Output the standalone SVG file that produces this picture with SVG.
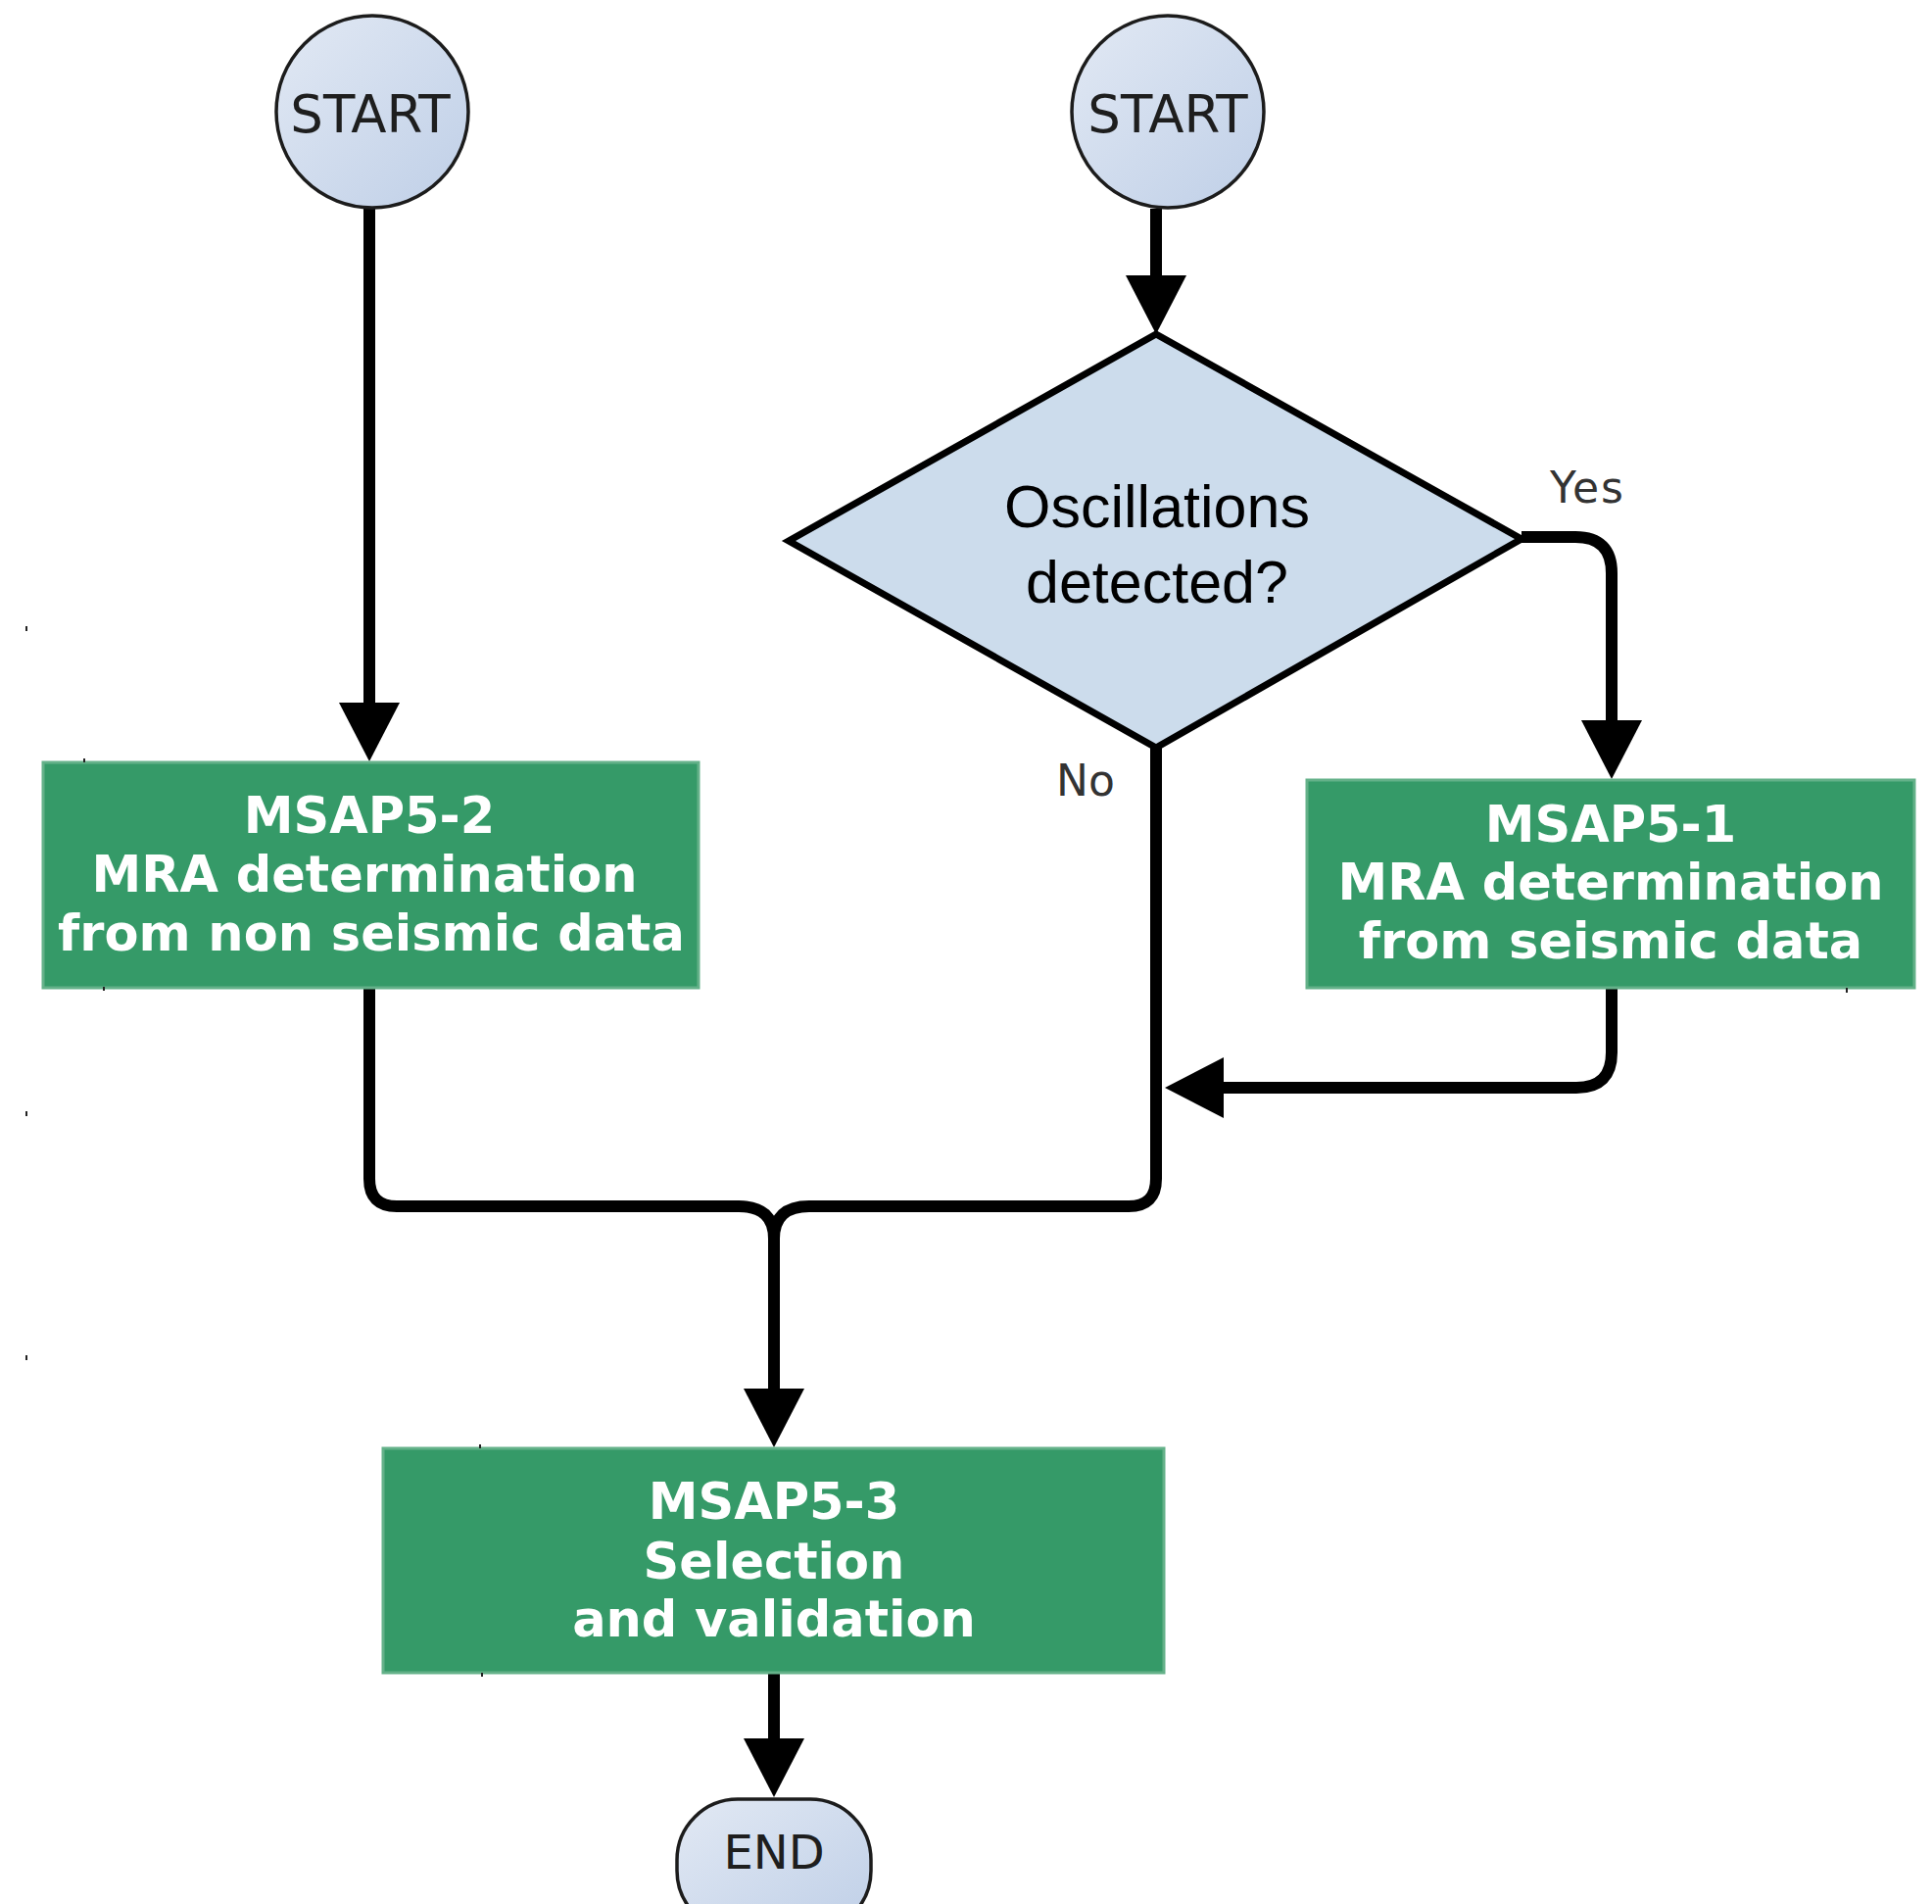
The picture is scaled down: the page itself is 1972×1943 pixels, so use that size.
<svg xmlns="http://www.w3.org/2000/svg" width="1972" height="1943" viewBox="0 0 1972 1943">
  <defs>
    <linearGradient id="termFill" x1="0" y1="0" x2="1" y2="1">
      <stop offset="0" stop-color="#e2e9f4"/>
      <stop offset="1" stop-color="#bfcfe7"/>
    </linearGradient>
    <marker id="arrow" markerUnits="userSpaceOnUse" markerWidth="62" markerHeight="64" viewBox="0 0 60 64" refX="46" refY="32" orient="auto">
      <path d="M0,1 L60,32 L0,63 Z" fill="#000"/>
    </marker>
    <style>
      .term { fill: url(#termFill); stroke: #1c1c1c; stroke-width: 3.5; }
      .term-text { font-family: "DejaVu Sans", sans-serif; font-size: 53px; fill: #1e1e1e; text-anchor: middle; }
      .decision { fill: #ccdcec; stroke: #000; stroke-width: 7; stroke-linejoin: miter; }
      .decision-text { font-family: "Liberation Sans", Arial, sans-serif; font-size: 61px; fill: #000; text-anchor: middle; }
      .process { fill: #359a68; stroke: #64b189; stroke-width: 3; }
      .process-text { font-family: "DejaVu Sans", sans-serif; font-weight: bold; font-size: 51px; fill: #fff; text-anchor: middle; }
      .edge { fill: none; stroke: #000; stroke-width: 12; stroke-linejoin: round; }
      .edge-label { font-family: "DejaVu Sans", sans-serif; font-size: 44px; fill: #333; }
      .tick { fill: #222; }
    </style>
  </defs>

  <rect width="1972" height="1943" fill="#fff"/>

  <!-- connectors -->
  <g id="connectors">
    <path class="edge" d="M377,213 V763" marker-end="url(#arrow)"/>
    <path class="edge" d="M1180,213 V327" marker-end="url(#arrow)"/>
    <path class="edge" d="M1553,548 H1608 Q1645,548 1645,585 V781" marker-end="url(#arrow)"/>
    <path class="edge" d="M1645,1009 V1074 Q1645,1110 1609,1110 H1203" marker-end="url(#arrow)"/>
    <path class="edge" d="M1180,763 V1203 Q1180,1231 1152,1231 H826 Q790,1231 790,1264"/>
    <path class="edge" d="M377,1009 V1203 Q377,1231 405,1231 H754 Q790,1231 790,1264 V1463" marker-end="url(#arrow)"/>
    <path class="edge" d="M790,1708 V1820" marker-end="url(#arrow)"/>
    <text class="edge-label" x="1582" y="513" letter-spacing="2">Yes</text>
    <text class="edge-label" x="1078" y="812">No</text>
  </g>

  <!-- start of the non-seismic branch -->
  <g id="start-left">
    <circle class="term" cx="380" cy="114" r="98"/>
    <text class="term-text" x="378" y="135">START</text>
  </g>

  <!-- start of the seismic branch -->
  <g id="start-right">
    <circle class="term" cx="1192" cy="114" r="98"/>
    <text class="term-text" x="1192" y="135">START</text>
  </g>

  <g id="decision">
    <polygon class="decision" points="1180,341 1553,550 1180,763 805,552"/>
    <text class="decision-text" x="1181" y="538">Oscillations</text>
    <text class="decision-text" x="1181" y="615">detected?</text>
  </g>

  <g id="msap5-2">
    <rect class="process" x="44" y="778" width="669" height="230"/>
    <text class="process-text" x="377" y="850">MSAP5-2</text>
    <text class="process-text" x="372" y="910">MRA determination</text>
    <text class="process-text" x="379" y="970">from non seismic data</text>
  </g>

  <g id="msap5-1">
    <rect class="process" x="1334" y="796" width="620" height="212"/>
    <text class="process-text" x="1644" y="859">MSAP5-1</text>
    <text class="process-text" x="1644" y="918">MRA determination</text>
    <text class="process-text" x="1644" y="978">from seismic data</text>
  </g>

  <g id="msap5-3">
    <rect class="process" x="391" y="1478" width="797" height="229"/>
    <text class="process-text" x="790" y="1550">MSAP5-3</text>
    <text class="process-text" x="790" y="1611">Selection</text>
    <text class="process-text" x="790" y="1670">and validation</text>
  </g>

  <g id="end">
    <rect class="term" x="691" y="1836" width="198" height="135" rx="62" ry="62"/>
    <text class="term-text" x="790" y="1907" style="font-size:48px">END</text>
  </g>

  <!-- small stray marks -->
  <g id="marks">
    <rect class="tick" x="26" y="639" width="2" height="5"/>
    <rect class="tick" x="26" y="1134" width="2" height="5"/>
    <rect class="tick" x="26" y="1383" width="2" height="5"/>
    <rect class="tick" x="85" y="774" width="2" height="4"/>
    <rect class="tick" x="105" y="1007" width="2" height="4"/>
    <rect class="tick" x="1884" y="1008" width="2" height="5"/>
    <rect class="tick" x="489" y="1474" width="2" height="4"/>
    <rect class="tick" x="491" y="1707" width="2" height="4"/>
  </g>
</svg>
